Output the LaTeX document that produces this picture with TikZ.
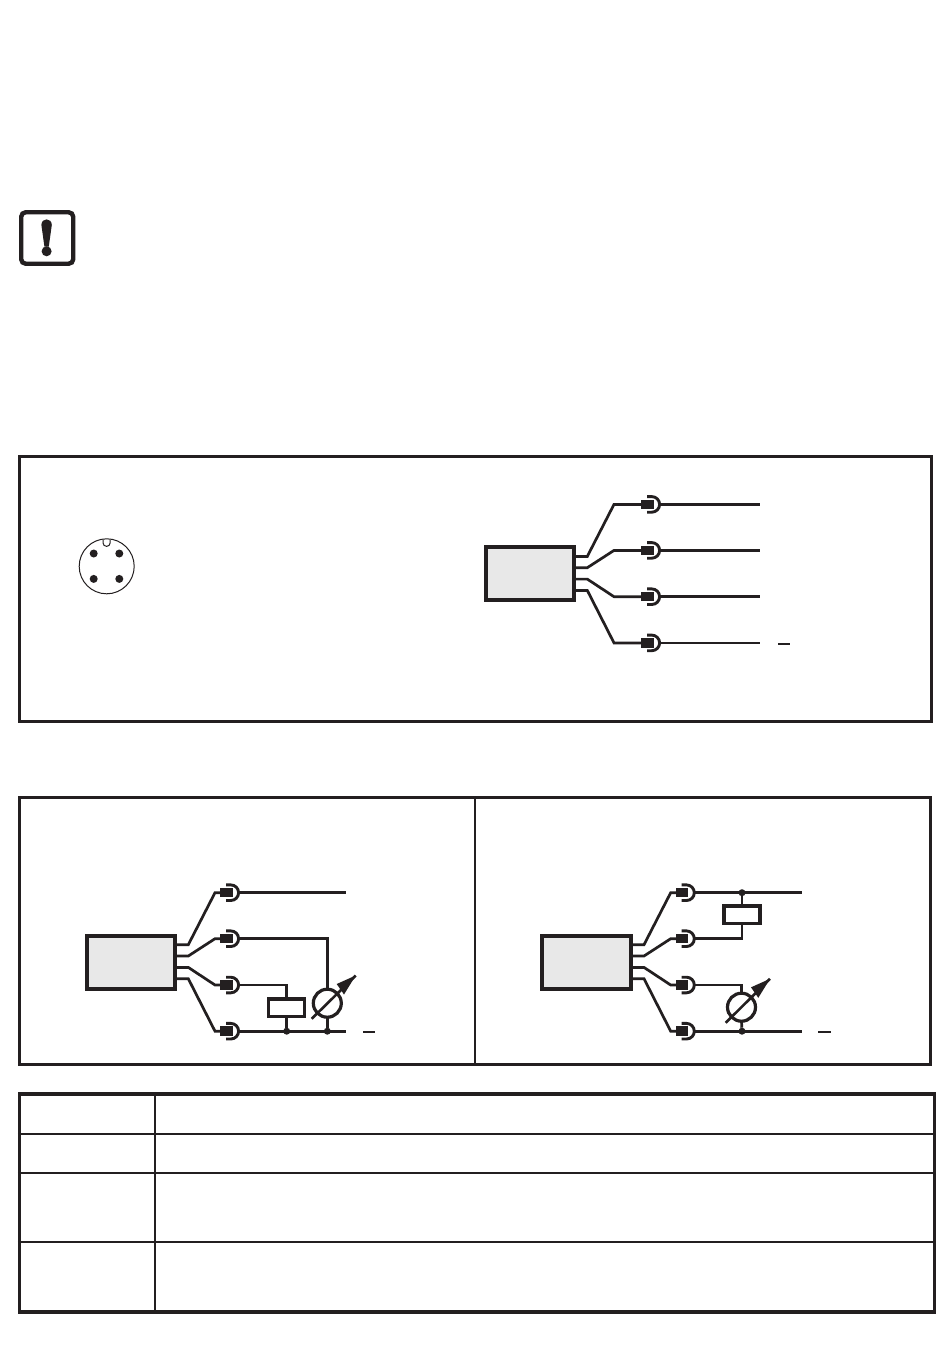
\documentclass[tikz,border=0pt]{standalone}
\definecolor{ink}{HTML}{231F20}
\definecolor{modfill}{HTML}{E8E8E8}
\tikzset{
  frame/.style={draw=ink,line width=2.8pt},
  rowline/.style={draw=ink,line width=2.2pt},
  wire/.style={draw=ink,line width=2.7pt,line join=miter},
  module/.style={draw=ink,line width=4pt,fill=modfill,rectangle,minimum width=88.5pt,minimum height=53pt,inner sep=0pt,outer sep=0pt},
  plug/.style={fill=ink,rectangle,minimum width=12.5pt,minimum height=9.5pt,inner sep=0pt,outer sep=0pt},
  load/.style={draw=ink,line width=3.3pt,fill=white,rectangle,minimum width=36pt,minimum height=17.5pt,inner sep=0pt,outer sep=0pt},
  meter/.style={draw=ink,line width=3.2pt,circle,minimum size=28pt,inner sep=0pt,outer sep=0pt},
  jdot/.style={fill=ink,circle,minimum size=7pt,inner sep=0pt,outer sep=0pt},
  pin/.style={fill=ink,circle,minimum size=8pt,inner sep=0pt,outer sep=0pt},
  minusbar/.style={draw=ink,line width=2.2pt},
}
\usetikzlibrary{calc}
% one module with its four leads and sockets; #1 moves the sockets along the leads
\newcommand{\unitdrawing}[1]{%
  \node[module] (box) at (530,573.5) {};
  \foreach \n/\sy/\ey in {1/556/504,2/567.3/550,3/578.7/596.3,4/590/642.5}{
    \coordinate (st\n) at (box.east |- 0,\sy);
    \coordinate (el\n) at (587.3,\sy);
    \coordinate (kn\n) at (614,\ey);
    \node[plug] (pl\n) at (647.5+#1,\ey) {};
    \coordinate (out\n) at (659.6+#1,\ey);
    \draw[wire] (st\n) -- (el\n) -- (kn\n) -- (pl\n.west);
    \draw[ink,line width=2.9pt] (647+#1,\ey-7.8) -- (651.8+#1,\ey-7.8) arc[start angle=90,end angle=-90,radius=7.8pt] -- (647+#1,\ey+7.8);
  }
}
\newcommand{\meterarrow}[4]{% from x,y to tip x,y
  \draw[ink,line width=2.6pt] (#1,#2) -- (#3,#4);
  \fill[ink] (#3,#4) -- ($(#3,#4)+(-19,8.5)$) -- ($(#3,#4)+(-11.7,19)$) -- cycle;
}
\begin{document}
\begin{tikzpicture}[x=1pt,y=-1pt]
\useasboundingbox (0,0) rectangle (950,1365);
\fill[white] (0,0) rectangle (950,1365);

% warning icon
\node[draw=ink,line width=4.4pt,rectangle,rounded corners=4.5pt,minimum width=52pt,minimum height=51.5pt,inner sep=0pt] (warn) at (47.2,238) {};
\fill[ink] (41.4,225) .. controls (41.4,217.5) and (51.8,217.5) .. (51.8,225) -- (48.8,246.5) -- (44.4,246.5) -- cycle;
\node[fill=ink,circle,minimum size=10pt,inner sep=0pt] (warndot) at (46.6,251.3) {};

% connector frame
\node[frame,rectangle,minimum width=912pt,minimum height=265pt,inner sep=0pt] (frameA) at (475.5,589) {};
\node[draw=ink,line width=1pt,circle,minimum size=55pt,inner sep=0pt] (conn) at (106.7,566.3) {};
\draw[ink,line width=1pt] (103,539.5) -- (103,542.8) arc[start angle=180,end angle=360,radius=3.6pt] -- (110.2,539.5);
\node[pin] (p1) at (93.7,553.5) {};
\node[pin] (p2) at (119.3,553.5) {};
\node[pin] (p3) at (93.7,578.9) {};
\node[pin] (p4) at (119.3,578.9) {};

\begin{scope}[yshift=-0.4pt,name prefix=a-]
  \unitdrawing{0}
  \foreach \n in {1,...,4}{\coordinate (end\n) at (760,0 |- out\n);}
  \foreach \n in {1,...,4}{\draw[wire] (out\n) -- (end\n);}
  \draw[minusbar] (778,643.3) -- (790,643.3);
\end{scope}

% circuit frames
\node[frame,rectangle,minimum width=911pt,minimum height=267pt,inner sep=0pt] (frameB) at (475,931) {};
\draw[ink,line width=2.2pt] (frameB.north) -- (frameB.south);

% left circuit
\begin{scope}[shift={(-399,388.7)},name prefix=b-]
  \unitdrawing{-22}
\end{scope}
\node[load] (bload) at (286.7,1007.7) {};
\node[meter] (bmeter) at (327.3,1003.2) {};
\coordinate (bend1) at (346,892.7);
\coordinate (bend4) at (346,1031.2);
\node[jdot] (bj1) at (286.7,1031.2) {};
\node[jdot] (bj2) at (327.3,1031.2) {};
\draw[wire] (b-out1) -- (bend1);
\draw[wire] (b-out2) -| (bmeter.north);
\draw[wire] (b-out3) -| (bload.north);
\draw[wire] (b-out4) -- (bend4);
\draw[wire] (bload.south) -- (bj1);
\draw[wire] (bmeter.south) -- (bj2);
\meterarrow{311.7}{1018.8}{355.7}{975.5}
\draw[minusbar] (363.3,1032) -- (375,1032);

% right circuit
\begin{scope}[shift={(56.7,388.7)},name prefix=c-]
  \unitdrawing{-22}
\end{scope}
\node[load] (cload) at (742,914.7) {};
\node[meter] (cmeter) at (741.5,1007.2) {};
\coordinate (cend1) at (801.7,892.7);
\coordinate (cend4) at (801.7,1031.2);
\node[jdot] (cj1) at (742,892.7) {};
\node[jdot] (cj2) at (742,1031.2) {};
\draw[wire] (c-out1) -- (cend1);
\draw[wire] (c-out2) -| (cload.south);
\draw[wire] (c-out3) -| (cmeter.north);
\draw[wire] (c-out4) -- (cend4);
\draw[wire] (cj1) -- (cload.north);
\draw[wire] (cmeter.south) -- (cj2);
\meterarrow{725.7}{1022.8}{770}{978.8}
\draw[minusbar] (818.3,1032) -- (831,1032);

% table
\node[draw=ink,line width=3.2pt,rectangle,minimum width=915pt,minimum height=218pt,inner sep=0pt] (tbl) at (477,1203) {};
\draw[rowline] (tbl.north -| 155,0) -- (tbl.south -| 155,0);
\foreach \y in {1133.7,1172.7,1241.7}{
  \draw[rowline] (tbl.west |- 0,\y) -- (tbl.east |- 0,\y);
}
\end{tikzpicture}
\end{document}
